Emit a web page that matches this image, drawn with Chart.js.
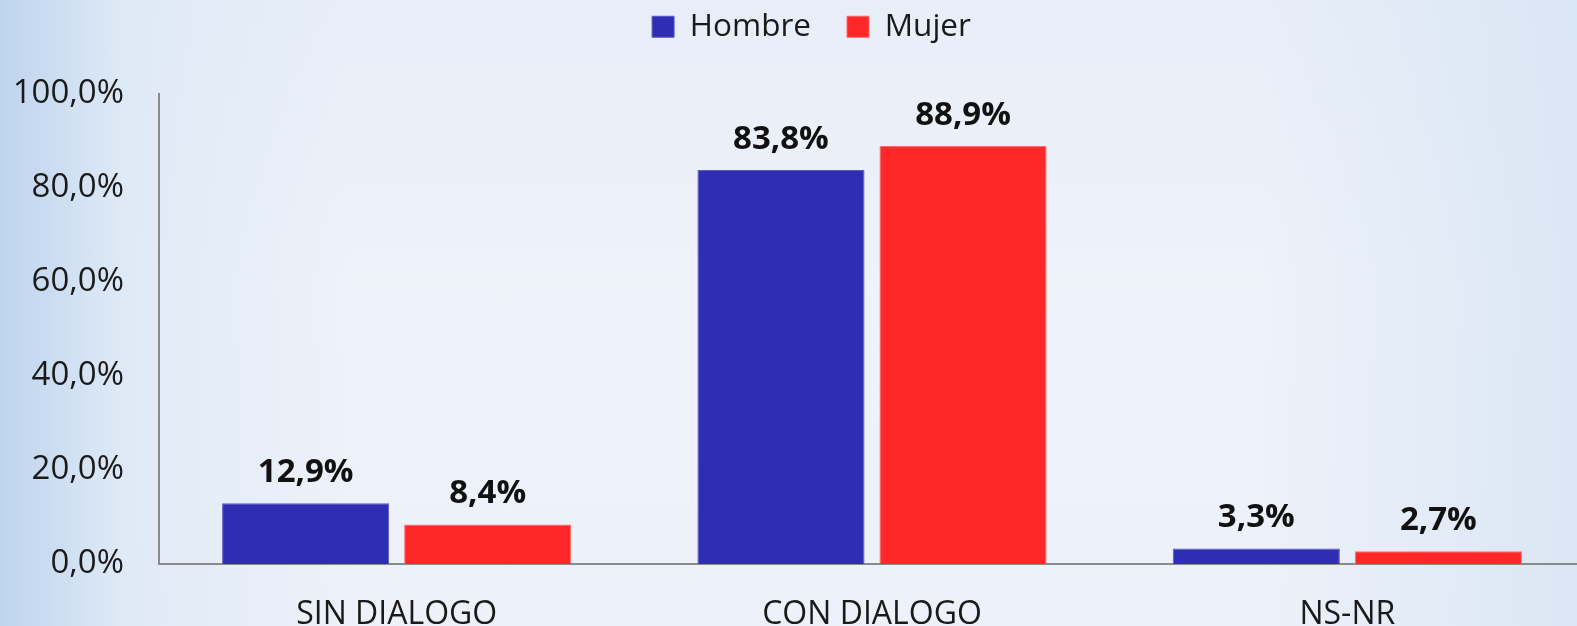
<!DOCTYPE html>
<html>
<head>
<meta charset="utf-8">
<script src="https://cdn.jsdelivr.net/npm/chart.js@4.4.0/dist/chart.umd.min.js"></script>
<style>
    html, body {
        margin: 0;
        padding: 0;
        width: 1577px;
        height: 626px;
        overflow: hidden;
    }
    body {
        background:
            linear-gradient(to right, rgba(190,212,238,1) 0%, rgba(222,233,246,0.9) 8%, rgba(238,242,250,0) 22%, rgba(238,242,250,0) 80%, rgba(214,228,244,0.8) 100%),
            linear-gradient(to bottom, #e8eef8 0%, #eef2f9 45%, #edf1f9 100%);
    }
    #chart {
        display: block;
    }
</style>
</head>
<body>
<canvas id="chart" width="1590" height="626"></canvas>
<script>
// Data
const categories = ['SIN DIALOGO', 'CON DIALOGO', 'NS-NR'];
const hombre = [12.9, 83.8, 3.3];
const mujer = [8.4, 88.9, 2.7];
const yTicks = [0, 20, 40, 60, 80, 100];

function fmt(v, decimals) {
    return v.toFixed(decimals).replace('.', ',') + '%';
}

// Draw the value above each bar
const valueLabels = {
    id: 'valueLabels',
    afterDatasetsDraw(chart) {
        const ctx = chart.ctx;
        ctx.save();
        ctx.font = 'bold 33px "Open Sans"';
        ctx.fillStyle = '#111111';
        ctx.textAlign = 'center';
        ctx.textBaseline = 'alphabetic';
        chart.data.datasets.forEach((ds, i) => {
            const meta = chart.getDatasetMeta(i);
            meta.data.forEach((bar, j) => {
                ctx.fillText(fmt(ds.data[j], 1), bar.x, bar.y - 21);
            });
        });
        ctx.restore();
    }
};

// Legend sits a bit right of the canvas centre in the original
const legendShift = {
    id: 'legendShift',
    afterLayout(chart) {
        if (chart.legend) {
            chart.legend.left += 38;
        }
    }
};

const ctx = document.getElementById('chart').getContext('2d');
new Chart(ctx, {
    type: 'bar',
    data: {
        labels: categories,
        datasets: [{
            label: 'Hombre',
            data: hombre,
            backgroundColor: '#2f2db4',
            borderColor: '#5a59c4',
            borderWidth: 1
        }, {
            label: 'Mujer',
            data: mujer,
            backgroundColor: '#ff2727',
            borderColor: '#ff6a6a',
            borderWidth: 1
        }]
    },
    options: {
        responsive: false,
        animation: false,
        devicePixelRatio: 1,
        layout: {
            padding: { top: -25, right: 5, bottom: 0, left: 0 }
        },
        datasets: {
            bar: {
                categoryPercentage: 0.766,
                barPercentage: 0.918
            }
        },
        scales: {
            x: {
                grid: { display: false },
                border: { display: true, color: '#8a8a8a', width: 2 },
                ticks: {
                    font: { family: 'Open Sans', size: 32 },
                    color: '#1a1a1a',
                    padding: 24,
                    maxRotation: 0
                },
                afterFit: scale => { scale.height = 62; }
            },
            y: {
                min: 0,
                max: 100,
                afterBuildTicks: scale => {
                    scale.ticks = yTicks.map(v => ({ value: v }));
                },
                grid: { display: false },
                border: { display: true, color: '#8a8a8a', width: 2 },
                ticks: {
                    font: { family: 'Open Sans', size: 33 },
                    color: '#1a1a1a',
                    padding: 27,
                    callback: v => fmt(v, 1)
                },
                afterFit: scale => { scale.width = 159; }
            }
        },
        plugins: {
            legend: {
                display: true,
                position: 'top',
                labels: {
                    font: { family: 'Open Sans', size: 31.5 },
                    color: '#1a1a1a',
                    boxWidth: 22,
                    boxHeight: 21,
                    padding: 36
                }
            },
            // empty spacer between legend and plot area
            subtitle: {
                display: true,
                text: '',
                position: 'top',
                weight: 500,
                font: { size: 1 },
                padding: { top: 0, bottom: 40 }
            },
            tooltip: { enabled: false }
        }
    },
    plugins: [valueLabels, legendShift]
});
</script>
</body>
</html>
